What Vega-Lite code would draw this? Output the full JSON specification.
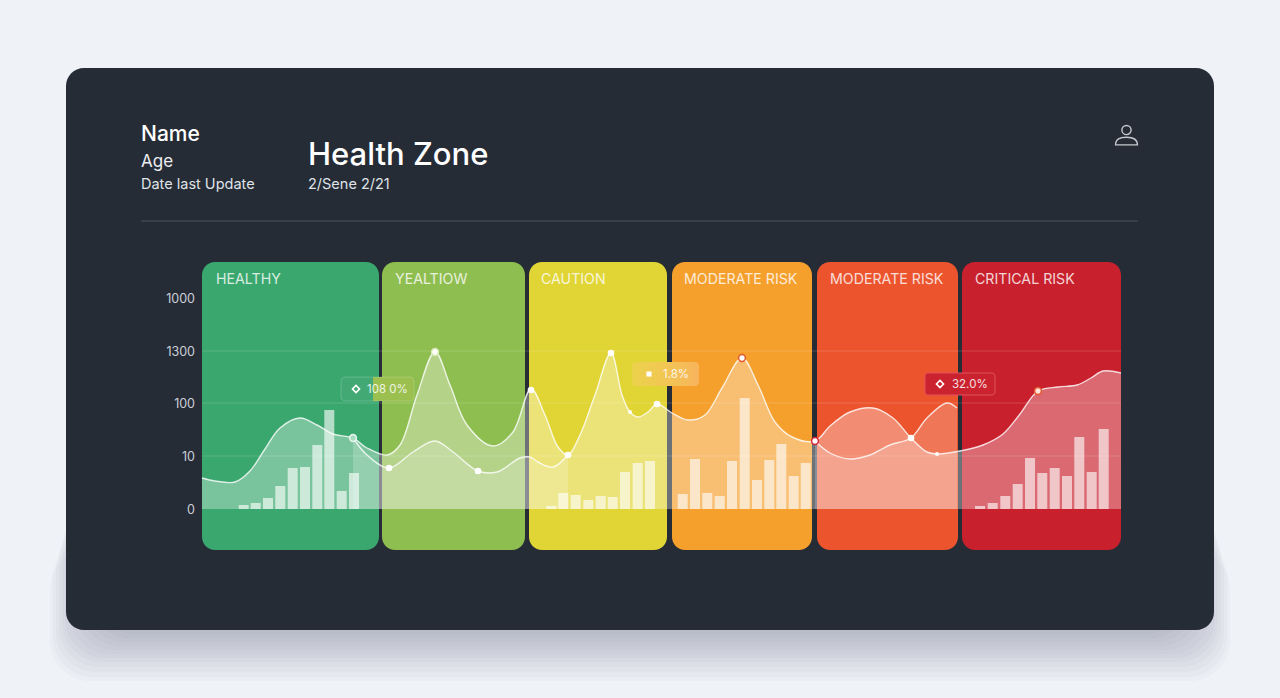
{
  "$schema": "https://vega.github.io/schema/vega-lite/v6.json",
  "description": "Health Zone card, six risk zones with curves and bars",
  "width": 1280,
  "height": 698,
  "padding": 0,
  "autosize": {"type": "fit", "contains": "padding"},
  "background": "#eff2f6",
  "config": {"view": {"stroke": null}, "text": {"font": "Inter", "dy": 1}},
  "datasets": {
    "shadow": [
      {"x": 50, "x2": 1230, "y": -40, "y2": -172},
      {"x": 53, "x2": 1227, "y": -30, "y2": -168},
      {"x": 56, "x2": 1224, "y": -20, "y2": -163},
      {"x": 59, "x2": 1221, "y": -10, "y2": -158},
      {"x": 62, "x2": 1218, "y": 0, "y2": -153},
      {"x": 65, "x2": 1215, "y": 10, "y2": -149},
      {"x": 70, "x2": 1210, "y": 20, "y2": -145},
      {"x": 75, "x2": 1205, "y": 30, "y2": -141},
      {"x": 80, "x2": 1200, "y": 40, "y2": -137},
      {"x": 85, "x2": 1195, "y": 50, "y2": -133},
      {"x": 90, "x2": 1190, "y": 60, "y2": -129},
      {"x": 95, "x2": 1185, "y": 70, "y2": -125}
    ],
    "zones": [
      {"zone": "HEALTHY", "x": 202, "x2": 379, "y": 247, "y2": -41, "labelX": 216, "labelY": 230},
      {"zone": "YEALTIOW", "x": 382, "x2": 525, "y": 247, "y2": -41, "labelX": 395, "labelY": 230},
      {"zone": "CAUTION", "x": 529, "x2": 667, "y": 247, "y2": -41, "labelX": 541, "labelY": 230},
      {"zone": "MODERATE RISK", "x": 672, "x2": 812, "y": 247, "y2": -41, "labelX": 684, "labelY": 230},
      {"zone": "MODERATE RISK ", "x": 817, "x2": 958, "y": 247, "y2": -41, "labelX": 830, "labelY": 230},
      {"zone": "CRITICAL RISK", "x": 962, "x2": 1121, "y": 247, "y2": -41, "labelX": 975, "labelY": 230}
    ],
    "grid": [
      {"x": 202, "x2": 1121, "y": 158},
      {"x": 202, "x2": 1121, "y": 106},
      {"x": 202, "x2": 1121, "y": 53}
    ],
    "curves": [
      {"s": "A", "x": 202, "y": 31}, {"s": "A", "x": 215, "y": 28}, {"s": "A", "x": 235, "y": 27},
      {"s": "A", "x": 250, "y": 38}, {"s": "A", "x": 265, "y": 60}, {"s": "A", "x": 280, "y": 81},
      {"s": "A", "x": 300, "y": 91}, {"s": "A", "x": 317, "y": 84}, {"s": "A", "x": 333, "y": 75},
      {"s": "A", "x": 353, "y": 71}, {"s": "A", "x": 367, "y": 61}, {"s": "A", "x": 387, "y": 54},
      {"s": "A", "x": 400, "y": 64},
      {"s": "A", "x": 417, "y": 114}, {"s": "A", "x": 435, "y": 157}, {"s": "A", "x": 450, "y": 124},
      {"s": "A", "x": 467, "y": 84}, {"s": "A", "x": 493, "y": 63}, {"s": "A", "x": 513, "y": 77},
      {"s": "A", "x": 531, "y": 120}, {"s": "A", "x": 545, "y": 94}, {"s": "A", "x": 558, "y": 62},
      {"s": "A", "x": 568, "y": 54}, {"s": "A", "x": 580, "y": 74}, {"s": "A", "x": 595, "y": 114},
      {"s": "A", "x": 611, "y": 156}, {"s": "A", "x": 622, "y": 114}, {"s": "A", "x": 630, "y": 97},
      {"s": "A", "x": 638, "y": 92}, {"s": "A", "x": 648, "y": 97}, {"s": "A", "x": 657, "y": 105},
      {"s": "A", "x": 672, "y": 96}, {"s": "A", "x": 688, "y": 89}, {"s": "A", "x": 705, "y": 94},
      {"s": "A", "x": 722, "y": 121}, {"s": "A", "x": 742, "y": 151}, {"s": "A", "x": 758, "y": 124},
      {"s": "A", "x": 775, "y": 87}, {"s": "A", "x": 792, "y": 72}, {"s": "A", "x": 815, "y": 68},
      {"s": "A", "x": 830, "y": 83}, {"s": "A", "x": 850, "y": 97}, {"s": "A", "x": 873, "y": 101},
      {"s": "A", "x": 893, "y": 91},
      {"s": "A", "x": 911, "y": 71}, {"s": "A", "x": 927, "y": 57}, {"s": "A", "x": 937, "y": 55},
      {"s": "A", "x": 960, "y": 58}, {"s": "A", "x": 983, "y": 64}, {"s": "A", "x": 1003, "y": 75},
      {"s": "A", "x": 1020, "y": 95}, {"s": "A", "x": 1038, "y": 118}, {"s": "A", "x": 1058, "y": 122},
      {"s": "A", "x": 1077, "y": 124}, {"s": "A", "x": 1091, "y": 131},
      {"s": "A", "x": 1103, "y": 138}, {"s": "A", "x": 1121, "y": 136},
      {"s": "B", "x": 815, "y": 68}, {"s": "B", "x": 830, "y": 56}, {"s": "B", "x": 850, "y": 50},
      {"s": "B", "x": 870, "y": 54}, {"s": "B", "x": 890, "y": 64}, {"s": "B", "x": 911, "y": 71},
      {"s": "B", "x": 927, "y": 91}, {"s": "B", "x": 947, "y": 106}, {"s": "B", "x": 957, "y": 101},
      {"s": "C", "x": 353, "y": 71}, {"s": "C", "x": 367, "y": 54}, {"s": "C", "x": 389, "y": 41},
      {"s": "C", "x": 413, "y": 57}, {"s": "C", "x": 435, "y": 68}, {"s": "C", "x": 453, "y": 57},
      {"s": "C", "x": 478, "y": 38}, {"s": "C", "x": 497, "y": 37}, {"s": "C", "x": 520, "y": 51},
      {"s": "C", "x": 530, "y": 52}, {"s": "C", "x": 538, "y": 47}, {"s": "C", "x": 553, "y": 42},
      {"s": "C", "x": 568, "y": 54}
    ],
    "bars": [
      {"x": 243.7, "v": 4}, {"x": 255.7, "v": 6}, {"x": 268, "v": 11}, {"x": 280.3, "v": 23},
      {"x": 292.7, "v": 41}, {"x": 305, "v": 42}, {"x": 317.3, "v": 64}, {"x": 329.3, "v": 99},
      {"x": 341.7, "v": 18}, {"x": 354, "v": 36},
      {"x": 551.3, "v": 3}, {"x": 563.3, "v": 16}, {"x": 575.7, "v": 14}, {"x": 588.3, "v": 9},
      {"x": 600.7, "v": 13}, {"x": 612.7, "v": 12}, {"x": 625, "v": 37}, {"x": 637.7, "v": 46},
      {"x": 650, "v": 48},
      {"x": 682.7, "v": 15}, {"x": 695, "v": 50}, {"x": 707.3, "v": 16}, {"x": 719.7, "v": 13},
      {"x": 732, "v": 48}, {"x": 744.7, "v": 111}, {"x": 757, "v": 29}, {"x": 769.3, "v": 49},
      {"x": 781.3, "v": 65}, {"x": 793.7, "v": 33}, {"x": 805.7, "v": 46},
      {"x": 980, "v": 3}, {"x": 992.7, "v": 6}, {"x": 1005.3, "v": 13}, {"x": 1017.7, "v": 25},
      {"x": 1030, "v": 51}, {"x": 1042.3, "v": 36}, {"x": 1054.7, "v": 41}, {"x": 1067, "v": 33},
      {"x": 1079.3, "v": 72}, {"x": 1091.7, "v": 37}, {"x": 1103.7, "v": 80}
    ],
    "xticks": [
      {"x": 251, "t": "20"}, {"x": 300, "t": "60"}, {"x": 348, "t": "50"},
      {"x": 432, "t": "40"}, {"x": 481, "t": "30"},
      {"x": 556, "t": "20"}, {"x": 599, "t": "30"}, {"x": 642, "t": "100"},
      {"x": 699, "t": "50"}, {"x": 742, "t": "40"}, {"x": 788, "t": "100"},
      {"x": 845, "t": "30"}, {"x": 887, "t": "130"}, {"x": 930, "t": "100"},
      {"x": 995, "t": "50"}, {"x": 1039, "t": "90"}, {"x": 1086, "t": "90"}
    ],
    "yticks": [
      {"x": 195, "y": 211, "t": "1000"},
      {"x": 195, "y": 158, "t": "1300"},
      {"x": 195, "y": 106, "t": "100"},
      {"x": 195, "y": 53, "t": "10"},
      {"x": 195, "y": 0, "t": "0"}
    ],
    "nodes": [
      {"x": 353, "y": 71, "kind": "green"},
      {"x": 389, "y": 41, "kind": "plain"},
      {"x": 435, "y": 157, "kind": "lime"},
      {"x": 478, "y": 38, "kind": "plain"},
      {"x": 531, "y": 119, "kind": "plain"},
      {"x": 568, "y": 54, "kind": "plain"},
      {"x": 611, "y": 156, "kind": "plain"},
      {"x": 657, "y": 105, "kind": "plain"},
      {"x": 630, "y": 97, "kind": "small"},
      {"x": 937, "y": 55, "kind": "small"},
      {"x": 742, "y": 151, "kind": "orange"},
      {"x": 815, "y": 68, "kind": "red"},
      {"x": 911, "y": 71, "kind": "plain"},
      {"x": 1038, "y": 118, "kind": "coral"}
    ],
    "callouts": [
      {"id": "a", "x": 341, "x2": 414, "y": 132, "y2": 108, "mx": 356, "my": 120, "tx": 367, "t": "108 0%"},
      {"id": "b", "x": 632, "x2": 699, "y": 147, "y2": 123, "mx": 649, "my": 135, "tx": 663, "t": "1.8%"},
      {"id": "c", "x": 925, "x2": 995, "y": 136, "y2": 114, "mx": 940, "my": 125, "tx": 952, "t": "32.0%"}
    ],
    "header": [
      {"x": 141, "y": 375, "t": "Name", "role": "name"},
      {"x": 141, "y": 348, "t": "Age", "role": "age"},
      {"x": 141, "y": 325, "t": "Date last Update", "role": "small"},
      {"x": 308, "y": 354, "t": "Health Zone", "role": "title"},
      {"x": 308, "y": 325, "t": "2/Sene 2/21", "role": "small"}
    ]
  },
  "encoding": {
    "x": {"field": "x", "type": "quantitative", "axis": null, "scale": {"domain": [0, 1280], "nice": false, "zero": false, "padding": 0}},
    "y": {"field": "y", "type": "quantitative", "axis": null, "scale": {"domain": [-189, 509], "nice": false, "zero": false, "padding": 0}}
  },
  "layer": [
    {
      "data": {"name": "shadow"},
      "mark": {"type": "rect", "color": "#3a3f47", "opacity": 0.024, "cornerRadius": 40},
      "encoding": {"x2": {"field": "x2"}, "y2": {"field": "y2"}}
    },
    {
      "data": {"values": [{"x": 66, "x2": 1214, "y": 441, "y2": -121}]},
      "mark": {"type": "rect", "color": "#262c36", "cornerRadius": 18},
      "encoding": {"x2": {"field": "x2"}, "y2": {"field": "y2"}}
    },
    {
      "data": {"values": [{"x": 141, "x2": 1138, "y": 288}]},
      "mark": {"type": "rule", "color": "#4c525c", "strokeWidth": 1},
      "encoding": {"x2": {"field": "x2"}}
    },
    {
      "data": {"name": "header"},
      "transform": [{"filter": "datum.role == 'name'"}],
      "mark": {"type": "text", "align": "left", "baseline": "middle", "color": "#ffffff", "fontSize": 21, "fontWeight": 500},
      "encoding": {"text": {"field": "t"}}
    },
    {
      "data": {"name": "header"},
      "transform": [{"filter": "datum.role == 'age'"}],
      "mark": {"type": "text", "align": "left", "baseline": "middle", "color": "#eceef1", "fontSize": 17},
      "encoding": {"text": {"field": "t"}}
    },
    {
      "data": {"name": "header"},
      "transform": [{"filter": "datum.role == 'small'"}],
      "mark": {"type": "text", "align": "left", "baseline": "middle", "color": "#dfe2e7", "fontSize": 14.5},
      "encoding": {"text": {"field": "t"}}
    },
    {
      "data": {"name": "header"},
      "transform": [{"filter": "datum.role == 'title'"}],
      "mark": {"type": "text", "align": "left", "baseline": "middle", "color": "#ffffff", "fontSize": 31, "fontWeight": 500},
      "encoding": {"text": {"field": "t"}}
    },
    {
      "data": {"values": [{"x": 1126.5, "y": 374}]},
      "mark": {
        "type": "point",
        "filled": false,
        "color": "#c4c8ce",
        "strokeWidth": 1.4,
        "opacity": 1,
        "size": 480,
        "shape": "M-0.42,-0.45A0.42,0.42,0,1,1,0.42,-0.45A0.42,0.42,0,1,1,-0.42,-0.45ZM-1,0.9C-1,0.35,-0.5,0.2,0,0.2C0.5,0.2,1,0.35,1,0.9Z"
      }
    },
    {
      "data": {"name": "zones"},
      "mark": {"type": "rect", "cornerRadius": 13},
      "encoding": {
        "x2": {"field": "x2"},
        "y2": {"field": "y2"},
        "color": {
          "field": "zone",
          "type": "nominal",
          "legend": null,
          "scale": {
            "domain": ["HEALTHY", "YEALTIOW", "CAUTION", "MODERATE RISK", "MODERATE RISK ", "CRITICAL RISK"],
            "range": ["#3aa76e", "#8fbe50", "#e1d535", "#f59f2c", "#ec542e", "#c8202c"]
          }
        }
      }
    },
    {
      "data": {"name": "grid"},
      "mark": {"type": "rule", "color": "#ffffff", "opacity": 0.16, "strokeWidth": 1},
      "encoding": {"x2": {"field": "x2"}}
    },
    {
      "data": {"name": "curves"},
      "transform": [{"filter": "datum.s == 'A'"}],
      "mark": {"type": "area", "color": "#ffffff", "opacity": 0.33, "interpolate": "catmull-rom"},
      "encoding": {"y2": {"datum": 0}}
    },
    {
      "data": {"name": "curves"},
      "transform": [{"filter": "datum.s != 'A'"}],
      "mark": {"type": "area", "color": "#ffffff", "opacity": 0.2, "interpolate": "catmull-rom"},
      "encoding": {"detail": {"field": "s"}, "y2": {"datum": 0}}
    },
    {
      "data": {"name": "bars"},
      "mark": {"type": "bar", "orient": "vertical", "size": 10, "color": "#ffffff", "opacity": 0.62},
      "encoding": {"y": {"field": "v", "type": "quantitative"}}
    },
    {
      "data": {"name": "curves"},
      "mark": {"type": "line", "color": "#ffffff", "opacity": 0.8, "strokeWidth": 1.4, "interpolate": "catmull-rom"},
      "encoding": {"detail": {"field": "s"}}
    },
    {
      "data": {"name": "nodes"},
      "transform": [{"filter": "datum.kind == 'plain'"}],
      "mark": {"type": "point", "filled": true, "color": "#ffffff", "opacity": 1, "size": 44}
    },
    {
      "data": {"name": "nodes"},
      "transform": [{"filter": "datum.kind == 'small'"}],
      "mark": {"type": "point", "filled": true, "color": "#ffffff", "opacity": 1, "size": 16}
    },
    {
      "data": {"name": "nodes"},
      "transform": [{"filter": "datum.kind != 'plain' && datum.kind != 'small'"}],
      "mark": {"type": "point", "filled": true, "opacity": 1, "size": 46, "strokeWidth": 1.5},
      "encoding": {
        "fill": {
          "field": "kind",
          "type": "nominal",
          "legend": null,
          "scale": {
            "domain": ["green", "lime", "orange", "red", "coral"],
            "range": ["#a8dcc0", "#ffffff", "#ffffff", "#ffffff", "#ffe4dc"]
          }
        },
        "stroke": {
          "field": "kind",
          "type": "nominal",
          "legend": null,
          "scale": {
            "domain": ["green", "lime", "orange", "red", "coral"],
            "range": ["#e8f6ee", "#dbe9b8", "#e4572e", "#d3263a", "#e4572e"]
          }
        }
      }
    },
    {
      "data": {"name": "xticks"},
      "transform": [{"calculate": "-5", "as": "tickEnd"}],
      "mark": {"type": "rule", "color": "#ffffff", "opacity": 0.45, "strokeWidth": 1},
      "encoding": {"y": {"datum": 0}, "y2": {"field": "tickEnd"}}
    },
    {
      "data": {"name": "xticks"},
      "mark": {"type": "text", "align": "center", "baseline": "middle", "color": "#ffffff", "opacity": 0.8, "fontSize": 12.5},
      "encoding": {"y": {"datum": -16}, "text": {"field": "t"}}
    },
    {
      "data": {"name": "yticks"},
      "mark": {"type": "text", "align": "right", "baseline": "middle", "color": "#ccd0d6", "fontSize": 12.5},
      "encoding": {"text": {"field": "t"}}
    },
    {
      "data": {"name": "zones"},
      "mark": {"type": "text", "align": "left", "baseline": "middle", "color": "#ffffff", "opacity": 0.8, "fontSize": 14.2},
      "encoding": {
        "x": {"field": "labelX", "type": "quantitative"},
        "y": {"field": "labelY", "type": "quantitative"},
        "text": {"field": "zone"}
      }
    },
    {
      "data": {"name": "callouts"},
      "transform": [{"filter": "datum.id == 'a'"}],
      "mark": {
        "type": "rect",
        "cornerRadius": 4,
        "stroke": "#ffffff",
        "strokeOpacity": 0.18,
        "color": {
          "gradient": "linear", "x1": 0, "y1": 0, "x2": 1, "y2": 0,
          "stops": [
            {"offset": 0, "color": "#42a975"},
            {"offset": 0.44, "color": "#42a975"},
            {"offset": 0.44, "color": "#9cc04f"},
            {"offset": 1, "color": "#9cc04f"}
          ]
        }
      },
      "encoding": {"x2": {"field": "x2"}, "y2": {"field": "y2"}}
    },
    {
      "data": {"name": "callouts"},
      "transform": [{"filter": "datum.id == 'b'"}],
      "mark": {
        "type": "rect",
        "cornerRadius": 4,
        "color": {
          "gradient": "linear", "x1": 0, "y1": 0, "x2": 1, "y2": 0,
          "stops": [
            {"offset": 0, "color": "#ecd24c"},
            {"offset": 0.5, "color": "#f2c654"},
            {"offset": 1, "color": "#f8b45c"}
          ]
        }
      },
      "encoding": {"x2": {"field": "x2"}, "y2": {"field": "y2"}}
    },
    {
      "data": {"name": "callouts"},
      "transform": [{"filter": "datum.id == 'c'"}],
      "mark": {"type": "rect", "cornerRadius": 3, "color": "#cb2230", "stroke": "#e2505a", "strokeWidth": 1},
      "encoding": {"x2": {"field": "x2"}, "y2": {"field": "y2"}}
    },
    {
      "data": {"name": "callouts"},
      "transform": [{"filter": "datum.id != 'b'"}],
      "mark": {"type": "point", "shape": "diamond", "filled": false, "color": "#ffffff", "opacity": 1, "size": 50, "strokeWidth": 1.6},
      "encoding": {"x": {"field": "mx", "type": "quantitative"}, "y": {"field": "my", "type": "quantitative"}}
    },
    {
      "data": {"name": "callouts"},
      "transform": [{"filter": "datum.id == 'b'"}],
      "mark": {"type": "point", "shape": "square", "filled": true, "color": "#ffffff", "opacity": 1, "size": 26},
      "encoding": {"x": {"field": "mx", "type": "quantitative"}, "y": {"field": "my", "type": "quantitative"}}
    },
    {
      "data": {"name": "callouts"},
      "mark": {"type": "text", "align": "left", "baseline": "middle", "color": "#ffffff", "opacity": 0.85, "fontSize": 11.5},
      "encoding": {
        "x": {"field": "tx", "type": "quantitative"},
        "y": {"field": "my", "type": "quantitative"},
        "text": {"field": "t"}
      }
    }
  ]
}
